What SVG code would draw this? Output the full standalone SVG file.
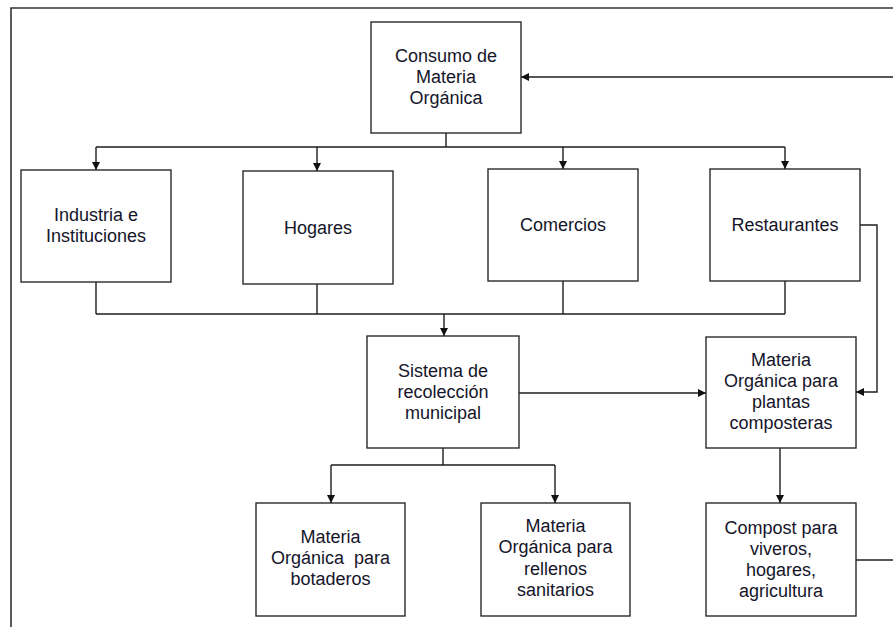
<svg xmlns="http://www.w3.org/2000/svg" width="893" height="627" viewBox="0 0 893 627">
  <style>
    .box { fill: #ffffff; stroke: #2a2a2a; stroke-width: 1.4; }
    .lbl { font-family: "Liberation Sans", Arial, sans-serif; font-size: 18px; fill: #15152a; text-anchor: middle; }
    .wire { fill: none; stroke: #1e1e1e; stroke-width: 1.4; }
    .arr { marker-end: url(#head); }
    .frame { fill: none; stroke: #333333; stroke-width: 1.6; }
  </style>
  <defs>
    <marker id="head" viewBox="0 0 10 10" refX="10" refY="5" markerWidth="8" markerHeight="8" markerUnits="userSpaceOnUse" orient="auto">
      <path d="M0,0 L10,5 L0,10 Z" fill="#111111"/>
    </marker>
  </defs>

  <rect width="893" height="627" fill="#ffffff"/>
  <!-- page frame -->
  <path class="frame" d="M11,627 V8 H893"/>

  <!-- connectors -->
  <g id="connectors">
    <!-- return loop into the consumption box -->
    <path class="wire arr" d="M893,77 H521"/>
    <!-- consumption to the four sources -->
    <path class="wire" d="M446,133 V147 M96,147 H785"/>
    <path class="wire arr" d="M96,147 V170"/>
    <path class="wire arr" d="M317,147 V171"/>
    <path class="wire arr" d="M563,147 V169"/>
    <path class="wire arr" d="M785,147 V169"/>
    <!-- sources merged into municipal collection -->
    <path class="wire" d="M96,282 V314 M317,284 V314 M563,281 V314 M785,281 V314 M96,314 H785"/>
    <path class="wire arr" d="M444,314 V336"/>
    <!-- restaurants directly to composting plants -->
    <path class="wire arr" d="M860,225 H877 V392 H856"/>
    <!-- collection to composting plants -->
    <path class="wire arr" d="M519,393 H706"/>
    <!-- collection split -->
    <path class="wire" d="M443,448 V465 M331,465 H555"/>
    <path class="wire arr" d="M331,465 V503"/>
    <path class="wire arr" d="M555,465 V503"/>
    <!-- composting plants to compost -->
    <path class="wire arr" d="M780,448 V503"/>
    <!-- compost back to consumption (continues off the page) -->
    <path class="wire" d="M856,560 H893"/>
  </g>

  <g id="consumo">
    <rect class="box" x="371" y="22" width="150" height="111"/>
    <text class="lbl" x="446" y="62">Consumo de</text>
    <text class="lbl" x="446" y="83">Materia</text>
    <text class="lbl" x="446" y="104">Orgánica</text>
  </g>

  <g id="industria">
    <rect class="box" x="21" y="170" width="150" height="112"/>
    <text class="lbl" x="96" y="221">Industria e</text>
    <text class="lbl" x="96" y="242">Instituciones</text>
  </g>

  <g id="hogares">
    <rect class="box" x="243" y="171" width="150" height="113"/>
    <text class="lbl" x="318" y="234">Hogares</text>
  </g>

  <g id="comercios">
    <rect class="box" x="488" y="169" width="150" height="112"/>
    <text class="lbl" x="563" y="231">Comercios</text>
  </g>

  <g id="restaurantes">
    <rect class="box" x="710" y="169" width="150" height="112"/>
    <text class="lbl" x="785" y="231">Restaurantes</text>
  </g>

  <g id="recoleccion">
    <rect class="box" x="367" y="336" width="152" height="112"/>
    <text class="lbl" x="443" y="377">Sistema de</text>
    <text class="lbl" x="443" y="398">recolección</text>
    <text class="lbl" x="443" y="419">municipal</text>
  </g>

  <g id="composteras">
    <rect class="box" x="706" y="337" width="150" height="111"/>
    <text class="lbl" x="781" y="366">Materia</text>
    <text class="lbl" x="781" y="387">Orgánica para</text>
    <text class="lbl" x="781" y="408">plantas</text>
    <text class="lbl" x="781" y="429">composteras</text>
  </g>

  <g id="botaderos">
    <rect class="box" x="256" y="503" width="149" height="113"/>
    <text class="lbl" x="330.5" y="543">Materia</text>
    <text class="lbl" x="330.5" y="564" xml:space="preserve">Orgánica  para</text>
    <text class="lbl" x="330.5" y="585">botaderos</text>
  </g>

  <g id="rellenos">
    <rect class="box" x="481" y="503" width="149" height="113"/>
    <text class="lbl" x="555.5" y="532">Materia</text>
    <text class="lbl" x="555.5" y="553">Orgánica para</text>
    <text class="lbl" x="555.5" y="575">rellenos</text>
    <text class="lbl" x="555.5" y="596">sanitarios</text>
  </g>

  <g id="compost">
    <rect class="box" x="706" y="503" width="150" height="113"/>
    <text class="lbl" x="781" y="534">Compost para</text>
    <text class="lbl" x="781" y="555">viveros,</text>
    <text class="lbl" x="781" y="576">hogares,</text>
    <text class="lbl" x="781" y="597">agricultura</text>
  </g>
</svg>
